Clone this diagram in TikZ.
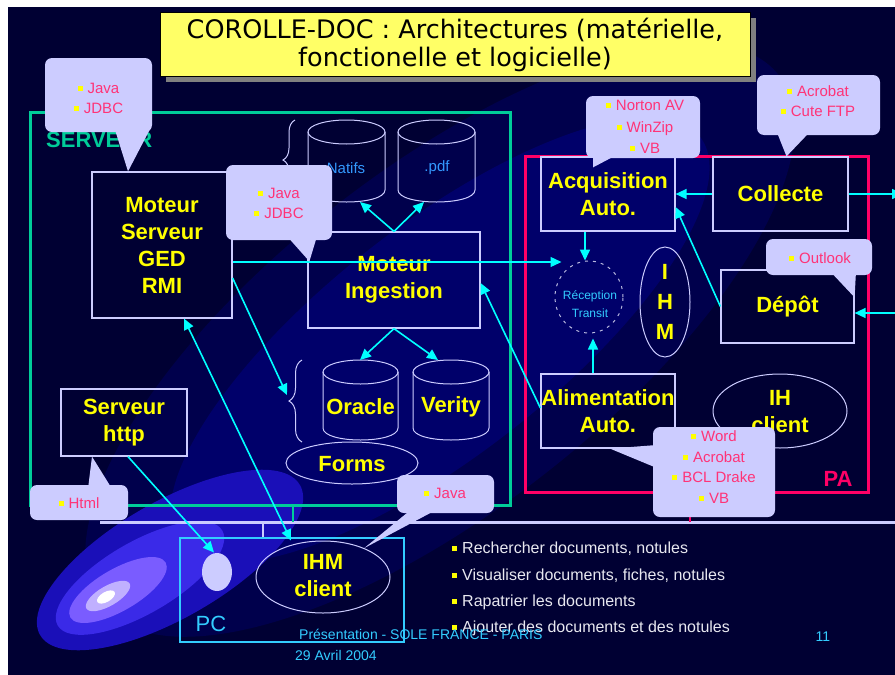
\documentclass[tikz,border=0pt]{standalone}
\usepackage{fontspec}
\setmainfont{Liberation Sans}
\newfontfamily\titlefont{DejaVu Sans}
\usetikzlibrary{arrows.meta,decorations.pathreplacing,shapes.geometric}
\definecolor{bgc}{HTML}{000033}
\definecolor{band1}{HTML}{00004C}
\definecolor{band2}{HTML}{00006A}
\definecolor{glow1}{HTML}{1A0FB8}
\definecolor{glow2}{HTML}{3A2AE8}
\definecolor{glow3}{HTML}{7A5CFF}
\definecolor{glow4}{HTML}{C0B0FF}
\definecolor{lav}{HTML}{CCCCFF}
\definecolor{pnk}{HTML}{FF3377}
\definecolor{yel}{HTML}{FFFF00}
\definecolor{cyn}{HTML}{00FFFF}
\definecolor{grn}{HTML}{00CC99}
\definecolor{redpa}{HTML}{FF0066}
\definecolor{pcc}{HTML}{33CCFF}
\definecolor{tyel}{HTML}{FFFF66}
\definecolor{blu}{HTML}{3399FF}
\definecolor{wht}{HTML}{E8E8F0}
\newcommand\ybul{\textcolor{yel}{\rule[0.3ex]{5pt}{5pt}}\hspace{5pt}}
\newcommand\drawcyl[4]{%
  \draw[cylst] (#1,#3) ellipse [x radius=#2, y radius=12];
  \draw[cylst] (#1-#2,#3) -- (#1-#2,#4) .. controls (#1-#2,#4+16) and (#1+#2,#4+16) .. (#1+#2,#4) -- (#1+#2,#3);
}
\tikzset{
  box/.style={draw=lav, line width=1.2pt, inner sep=0pt},
  lbl/.style={text=yel, font=\bfseries\fontsize{22}{27}\selectfont, align=center, inner sep=0pt},
  call/.style={fill=lav, rounded corners=7pt, inner sep=0pt},
  ctext/.style={text=pnk, font=\fontsize{15}{20}\selectfont, align=center, inner sep=0pt},
  arr/.style={draw=cyn, line width=1.6pt, -{Triangle[length=11pt,width=10pt]}},
  darr/.style={draw=cyn, line width=1.6pt, {Triangle[length=11pt,width=10pt]}-{Triangle[length=11pt,width=10pt]}},
  cylst/.style={draw=lav, line width=1pt},
  ell/.style={draw=lav, line width=1pt, ellipse, inner sep=0pt},
}
\begin{document}
\begin{tikzpicture}[x=1pt,y=-1pt]
\useasboundingbox (0,0) rectangle (895,675);
\fill[white] (0,0) rectangle (895,675);
\fill[bgc] (8,7) rectangle (895,675);
\begin{scope}
\clip (8,7) rectangle (895,675);
\fill[band1, rotate around={38:(440,340)}] (440,340) ellipse [x radius=430, y radius=170];
\fill[band2, rotate around={38:(440,340)}] (440,340) ellipse [x radius=330, y radius=115];
\fill[glow1, rotate around={30:(170,560)}] (170,560) ellipse [x radius=150, y radius=58];
\fill[glow2, rotate around={30:(140,578)}] (140,578) ellipse [x radius=95, y radius=36];
\fill[glow3, rotate around={30:(118,590)}] (118,590) ellipse [x radius=55, y radius=21];
\fill[glow4, rotate around={30:(108,596)}] (108,596) ellipse [x radius=25, y radius=10];
\fill[white, rotate around={30:(106,597)}] (106,597) ellipse [x radius=10, y radius=5];
\end{scope}
% title
\fill[gray] (166,18) rectangle (756,82);
\node[draw=black, fill=tyel, line width=0.8pt, minimum width=590pt, minimum height=64pt, inner sep=0pt] (title) at (455,44) {};
\node[font=\titlefont\fontsize{25.5}{28}\selectfont, align=center, inner sep=0pt] (titletext) at (455,45) {COROLLE-DOC : Architectures (matérielle,\\fonctionelle et logicielle)};
% frames
\node[draw=grn, line width=3pt, minimum width=480pt, minimum height=393pt, inner sep=0pt] (srv) at (270,308.5) {};
\node[anchor=west, text=grn, font=\bfseries\fontsize{22}{22}\selectfont, inner sep=0pt] (srvlbl) at (46,140) {SERVEUR};
\node[draw=redpa, line width=3pt, minimum width=343pt, minimum height=336pt, inner sep=0pt] (pa) at (696.5,324) {};
\node[text=redpa, font=\bfseries\fontsize{22}{22}\selectfont, inner sep=0pt] (palbl) at (838,479) {PA};
\node[draw=pcc, line width=2.2pt, minimum width=224pt, minimum height=104pt, inner sep=0pt] (pc) at (292,590) {};
\node[text=pcc, font=\fontsize{22}{22}\selectfont, inner sep=0pt] (pclbl) at (211,624) {PC};
% network
\coordinate (netL) at (100,522);
\coordinate (netR) at (895,522);
\draw[lav, line width=3pt] (netL) -- (netR);
\coordinate (gtap) at (293,505);
\draw[grn, line width=2.5pt] (gtap) -- (gtap |- netL);
\coordinate (ptap) at (263,522);
\draw[lav, line width=2.5pt] (ptap) -- (ptap |- pc.north);
\coordinate (rtap) at (690,492);
\draw[redpa, line width=2.5pt] (rtap) -- (rtap |- netL);
% boxes
\node[box, lbl, minimum width=140pt, minimum height=146pt] (ms) at (162,245) {Moteur\\Serveur\\GED\\RMI};
\node[box, lbl, minimum width=172pt, minimum height=96pt] (mi) at (394,280) {Moteur\\Ingestion};
\node[box, lbl, minimum width=126pt, minimum height=67pt] (http) at (124,422.5) {Serveur\\http};
\node[box, lbl, minimum width=134pt, minimum height=74pt] (acq) at (608,194) {Acquisition\\Auto.};
\node[box, lbl, minimum width=135pt, minimum height=74pt] (col) at (780.5,194) {Collecte};
\node[box, lbl, minimum width=133pt, minimum height=73pt] (dep) at (787.5,306.5) {Dépôt};
\node[box, lbl, minimum width=134pt, minimum height=74pt] (ali) at (608,411) {Alimentation\\Auto.};
% ellipses
\node[ell, minimum width=50pt, minimum height=110pt] (ihm) at (665,302) {};
\node[lbl, font=\bfseries\fontsize{22}{30}\selectfont] (ihmt) at (665,302) {I\\H\\M};
\node[ell, minimum width=134pt, minimum height=74pt] (ihcl) at (780,411) {};
\node[lbl] (ihclt) at (780,412) {IH\\client};
\node[ell, draw=lav!75!gray, dash pattern=on 3pt off 5pt, minimum width=68pt, minimum height=72pt] (rec) at (589,297) {};
\node[text=pcc, font=\fontsize{12}{18}\selectfont, align=center, inner sep=0pt] (rect) at (590,304) {Réception\\Transit};
\node[ell, minimum width=132pt, minimum height=42pt] (forms) at (352,463) {};
\node[lbl] (formst) at (352,464) {Forms};
\node[ell, fill=lav, draw=none, minimum width=30pt, minimum height=38pt] (pcdot) at (217,572) {};
\node[ell, minimum width=134pt, minimum height=72pt] (ihmc) at (323,577) {};
\node[lbl] (ihmct) at (323,576) {IHM\\client};
% cylinders
\drawcyl{346.5}{38.5}{132}{190}
\drawcyl{436.5}{38.5}{132}{190}
\drawcyl{360.5}{37.5}{372}{428}
\drawcyl{451}{38}{372}{428}
\node[text=blu, font=\fontsize{15}{15}\selectfont, inner sep=0pt] (natt) at (346,168) {Natifs};
\node[text=blu, font=\fontsize{15}{15}\selectfont, inner sep=0pt] (pdft) at (437,168) {.pdf};
\node[lbl] (orat) at (360.5,407) {Oracle};
\node[lbl] (vert) at (451,407) {Verity};
\coordinate (natB) at (360,202);
\coordinate (pdfB) at (424,202);
\coordinate (oraT) at (360,360);
\coordinate (verT) at (438,360);
% braces
\draw[lav, line width=1pt, decorate, decoration={brace, amplitude=12pt}] (295,200) -- (295,120);
\draw[lav, line width=1pt, decorate, decoration={brace, amplitude=13pt}] (302,442) -- (302,360);
\coordinate (br2c) at (287,395);
% arrows
\draw[arr] (mi.north) -- (natB);
\draw[arr] (mi.north) -- (pdfB);
\draw[arr] (mi.south) -- (oraT);
\draw[arr] (mi.south) -- (verT);
\draw[arr] ([yshift=-33pt]ms.east) -- (br2c);
\draw[arr] ([yshift=3pt]ali.west) -- ([yshift=-3pt]mi.east);
\draw[darr] ([xshift=22pt]ms.south) -- ([xshift=-32pt]ihmc.north);
\draw[arr] ([xshift=4pt]http.south) -- ([xshift=-3pt]pcdot.north);
\draw[arr] (col.west) -- (acq.east);
\coordinate (redge1) at (903,194);
\coordinate (redge2) at (895,313);
\draw[arr] (col.east) -- (redge1);
\draw[arr] (redge2) -- (redge2 -| dep.east);
\draw[arr] (dep.west) -- ([yshift=-13pt]acq.east);
\coordinate (acqS) at ([xshift=-23pt]acq.south);
\draw[arr] (acqS) -- (acqS |- rec.north);
\coordinate (aliN) at ([xshift=-15pt]ali.north);
\draw[arr, shorten >=5pt] (aliN) -- (aliN |- rec.south);
\coordinate (hl) at ([yshift=-17pt]ms.east);
\draw[arr, line width=1.3pt, shorten >=-7pt] (hl) -- (hl -| rec.west);
% callouts
\node[call, minimum width=107pt, minimum height=74pt] (c1) at (98.5,95) {};
\fill[lav] ([xshift=16pt,yshift=4pt]c1.south) -- ([xshift=52pt,yshift=4pt]c1.south) -- ([xshift=-34pt]ms.north) -- cycle;
\node[ctext] (c1t) at (98.5,98) {\ybul Java\\\ybul JDBC};
\node[call, minimum width=106pt, minimum height=75pt] (c2) at (279,202.5) {};
\fill[lav] ([xshift=8pt,yshift=4pt]c2.south) -- ([xshift=38pt,yshift=4pt]c2.south) -- ([xshift=2pt,yshift=-30pt]mi.north west) -- cycle;
\node[ctext] (c2t) at (279,203) {\ybul Java\\\ybul JDBC};
\node[call, minimum width=114pt, minimum height=62pt] (c3) at (643,127) {};
\fill[lav] ([xshift=-50pt,yshift=4pt]c3.south) -- ([xshift=-25pt,yshift=4pt]c3.south) -- ([xshift=-15pt,yshift=-11pt]acq.north) -- cycle;
\node[ctext, font=\fontsize{15}{21.5}\selectfont] (c3t) at (645,127) {\ybul Norton AV\\\ybul WinZip\\\ybul VB};
\node[call, minimum width=123pt, minimum height=60pt] (c4) at (818.5,105) {};
\fill[lav] ([xshift=-42pt,yshift=4pt]c4.south) -- ([xshift=-8pt,yshift=4pt]c4.south) -- ([xshift=6pt]col.north) -- cycle;
\node[ctext] (c4t) at (818,101) {\ybul Acrobat\\\ybul Cute FTP};
\node[call, minimum width=106pt, minimum height=36pt] (c5) at (819,257) {};
\fill[lav] ([xshift=11pt,yshift=4pt]c5.south) -- ([xshift=37pt,yshift=4pt]c5.south) -- ([yshift=-28pt]dep.north east) -- cycle;
\node[ctext] (c5t) at (820,258) {\ybul Outlook};
\node[call, minimum width=122pt, minimum height=90pt] (c6) at (714,472) {};
\fill[lav] ([xshift=4pt,yshift=27pt]c6.west) -- ([xshift=4pt,yshift=4pt]c6.west) -- ([xshift=2pt]ali.south) -- cycle;
\node[ctext, font=\fontsize{15}{20.7}\selectfont] (c6t) at (714,467) {\ybul Word\\\ybul Acrobat\\\ybul BCL Drake\\\ybul VB};
\node[call, minimum width=98pt, minimum height=35pt] (c7) at (79,502.5) {};
\fill[lav] ([xshift=9pt,yshift=-4pt]c7.north) -- ([xshift=33pt,yshift=-4pt]c7.north) -- ([xshift=-32pt]http.south) -- cycle;
\node[ctext] (c7t) at (79,503) {\ybul Html};
\node[call, minimum width=97pt, minimum height=38pt] (c8) at (445.5,494) {};
\fill[lav] ([xshift=-34pt,yshift=4pt]c8.south) -- ([xshift=-8pt,yshift=4pt]c8.south) -- (ihmc.35) -- cycle;
\node[ctext] (c8t) at (445,493) {\ybul Java};
% bullet list
\node[anchor=west, text=wht, font=\fontsize{16}{16}\selectfont, inner sep=0pt] (b1) at (452,549) {\ybul Rechercher documents, notules};
\node[anchor=west, text=wht, font=\fontsize{16}{16}\selectfont, inner sep=0pt] (b2) at (452,576) {\ybul Visualiser documents, fiches, notules};
\node[anchor=west, text=wht, font=\fontsize{16}{16}\selectfont, inner sep=0pt] (b3) at (452,602) {\ybul Rapatrier les documents};
\node[anchor=west, text=wht, font=\fontsize{16}{16}\selectfont, inner sep=0pt] (b4) at (452,628) {\ybul Ajouter des documents et des notules};
% footer
\node[anchor=west, text=pcc, font=\fontsize{14}{14}\selectfont, inner sep=0pt] (ft1) at (299,634) {Présentation - SOLE FRANCE - PARIS};
\node[anchor=west, text=pcc, font=\fontsize{14}{14}\selectfont, inner sep=0pt] (ft2) at (295,655) {29 Avril 2004};
\node[text=pcc, font=\fontsize{14}{14}\selectfont, inner sep=0pt] (pg) at (823,637) {11};
\end{tikzpicture}
\end{document}
